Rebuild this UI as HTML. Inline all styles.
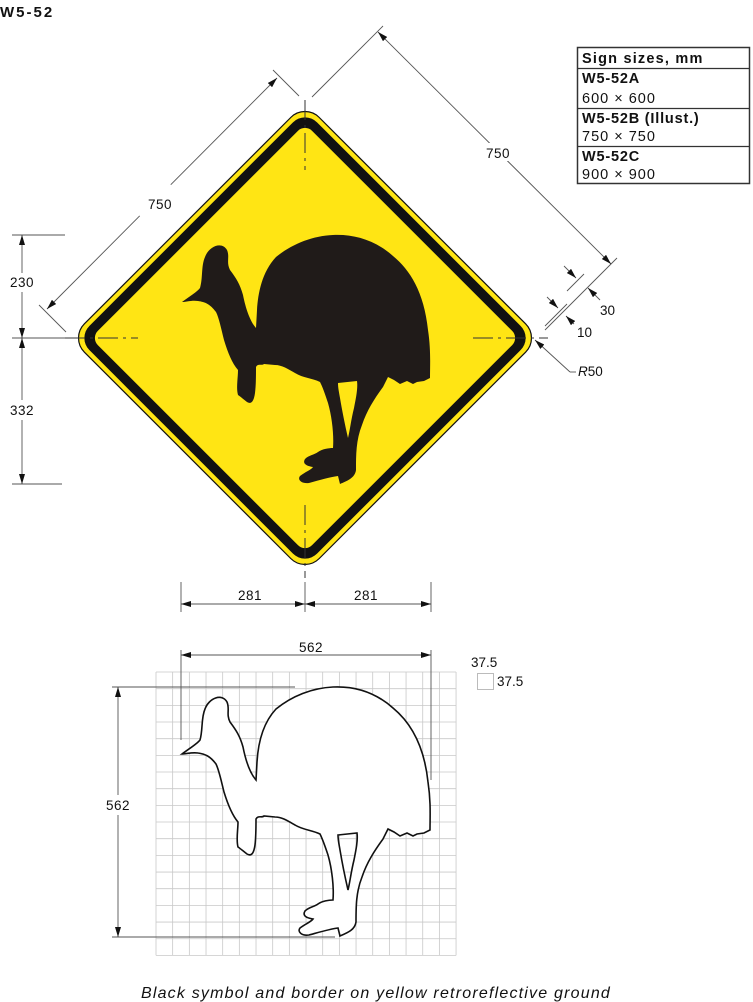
<!DOCTYPE html>
<html><head><meta charset="utf-8"><style>
html,body{margin:0;padding:0;background:#fff}
svg{display:block}
text{font-family:"Liberation Sans",sans-serif;fill:#111}
</style></head><body>
<svg width="753" height="1002" viewBox="0 0 753 1002" xmlns="http://www.w3.org/2000/svg">
<defs>
<marker id="ar" viewBox="0 0 10 6" refX="10" refY="3" markerWidth="10" markerHeight="6" markerUnits="userSpaceOnUse" orient="auto-start-reverse"><path d="M0,0 L10,3 L0,6 z" fill="#111"/></marker>
<path id="bird" fill-rule="evenodd" d="M182,302 C190,296 197,292 200,288 C203,278 201,266 205,257 C209,246 222,241 227,250 C230,257 226,262 230,270 C236,278 240,284 243,295 C245,305 249,320 256,328 L257,310 C258,293 262,272 276,257 C292,244 312,236 333,235 C354,234 375,240 393,256 C410,270 424,292 428,330 C431,350 430,365 430,378 L424,381 L417,382 L413,384 L407,381 L400,384 L394,380 L388,377 L383,387 C375,398 367,410 362,425 C356,440 356,455 356,470 C355,478 347,481 340,484 L338,476 C330,477 320,480 309,483 C302,484 297,480 300,476 C305,472 311,470 313,467 C307,466 302,464 305,459 C309,455 314,455 318,452 C322,449 329,448 333,448 C334,435 332,417 328,403 C325,394 323,388 320,382 C312,378 303,378 295,373 C288,369 282,365 275,365 L264,364 C262,366 258,363 256,367 C256,375 256,385 255,393 C254,400 252,405 247,402 C243,399 241,397 238,395 C236,388 238,378 238,370 C232,363 228,353 224,340 C221,328 219,318 216,312 C210,304 205,302 198,301 C192,300 186,302 182,302 Z M338,383 L357,381 C358,388 356,398 354,408 C351,420 350,430 348,438 C345,425 342,410 340,398 C339,392 338,388 338,383 Z"/>
</defs>

<text x="0" y="17" font-size="15" font-weight="bold" letter-spacing="2">W5-52</text>

<g>
<rect x="577.5" y="47.5" width="172" height="136" fill="#fff" stroke="#333" stroke-width="1.5"/>
<line x1="577" y1="68.5" x2="750" y2="68.5" stroke="#333" stroke-width="1.3"/>
<line x1="577" y1="108.5" x2="750" y2="108.5" stroke="#333" stroke-width="1.3"/>
<line x1="577" y1="146.5" x2="750" y2="146.5" stroke="#333" stroke-width="1.3"/>
<text x="582" y="63" font-size="14.5" font-weight="bold" letter-spacing="1.2">Sign sizes, mm</text>
<text x="582" y="83" font-size="14.5" font-weight="bold" letter-spacing="0.8">W5-52A</text>
<text x="582" y="103" font-size="14.5" letter-spacing="1">600 × 600</text>
<text x="582" y="123" font-size="14.5" font-weight="bold" letter-spacing="0.8">W5-52B (Illust.)</text>
<text x="582" y="141" font-size="14.5" letter-spacing="1">750 × 750</text>
<text x="582" y="161" font-size="14.5" font-weight="bold" letter-spacing="0.8">W5-52C</text>
<text x="582" y="179" font-size="14.5" letter-spacing="1">900 × 900</text>
</g>

<g>
<g transform="rotate(45 305 338)">
<rect x="139" y="172" width="332" height="332" rx="20" fill="#ffe514" stroke="#111" stroke-width="1.2"/>
<rect x="144" y="177" width="322" height="322" rx="17" fill="#111"/>
<rect x="153.5" y="186.5" width="303" height="303" rx="10" fill="#ffe514"/>
</g>
<use href="#bird" fill="#201b19"/>
<g stroke="#333" stroke-width="1" stroke-dasharray="20,5,3,5" fill="none">
<line x1="305" y1="100" x2="305" y2="170"/>
<line x1="305" y1="505" x2="305" y2="578"/>
<line x1="65" y1="338" x2="138" y2="338"/>
<line x1="473" y1="338" x2="548" y2="338"/>
</g>
</g>

<g stroke="#555" stroke-width="0.9" fill="none">
<line x1="273" y1="70" x2="299" y2="96"/>
<line x1="39" y1="305" x2="66" y2="332"/>
<line x1="47" y1="309" x2="277" y2="78" marker-start="url(#ar)" marker-end="url(#ar)"/>
<line x1="312" y1="97" x2="383" y2="26"/>
<line x1="545" y1="330" x2="617" y2="258"/>
<line x1="378" y1="32" x2="611" y2="264" marker-start="url(#ar)" marker-end="url(#ar)"/>
<line x1="567" y1="291" x2="584" y2="274"/>
<line x1="545" y1="326" x2="567" y2="304"/>
<line x1="564" y1="266" x2="576" y2="278" marker-end="url(#ar)"/>
<line x1="600" y1="300" x2="588" y2="288" marker-end="url(#ar)"/>
<line x1="547" y1="297" x2="558" y2="308" marker-end="url(#ar)"/>
<line x1="574" y1="324" x2="566" y2="316" marker-end="url(#ar)"/>
<line x1="570" y1="372" x2="535" y2="340" marker-end="url(#ar)"/>
<line x1="570" y1="372" x2="576" y2="372"/>
</g>
<g transform="rotate(-45 160 205)"><rect x="138" y="196" width="44" height="16" fill="#fff"/><text x="160" y="209" font-size="13.5" text-anchor="middle" letter-spacing="0.5" transform="rotate(45 160 205)">750</text></g>
<rect x="480" y="143" width="36" height="18" fill="#fff"/>
<text x="498" y="158" font-size="13.5" text-anchor="middle" letter-spacing="0.5">750</text>
<text x="600" y="315" font-size="13.5">30</text>
<text x="577" y="337" font-size="13.5">10</text>
<text x="578" y="376" font-size="13.5"><tspan font-style="italic">R</tspan>50</text>

<g stroke="#555" stroke-width="0.9" fill="none">
<line x1="12" y1="235" x2="65" y2="235"/>
<line x1="12" y1="338" x2="65" y2="338"/>
<line x1="12" y1="484" x2="62" y2="484"/>
<line x1="22" y1="235" x2="22" y2="273" marker-start="url(#ar)"/>
<line x1="22" y1="292" x2="22" y2="338" marker-end="url(#ar)"/>
<line x1="22" y1="338" x2="22" y2="400" marker-start="url(#ar)"/>
<line x1="22" y1="420" x2="22" y2="484" marker-end="url(#ar)"/>
</g>
<text x="22" y="287" font-size="13.5" text-anchor="middle" letter-spacing="0.5">230</text>
<text x="22" y="415" font-size="13.5" text-anchor="middle" letter-spacing="0.5">332</text>

<g stroke="#555" stroke-width="0.9" fill="none">
<line x1="181" y1="582" x2="181" y2="612"/>
<line x1="305" y1="582" x2="305" y2="612"/>
<line x1="431" y1="582" x2="431" y2="612"/>
<line x1="181" y1="604" x2="305" y2="604" marker-start="url(#ar)" marker-end="url(#ar)"/>
<line x1="305" y1="604" x2="431" y2="604" marker-start="url(#ar)" marker-end="url(#ar)"/>
</g>
<text x="250" y="600" font-size="13.5" text-anchor="middle" letter-spacing="0.5">281</text>
<text x="366" y="600" font-size="13.5" text-anchor="middle" letter-spacing="0.5">281</text>

<g id="grid" stroke="#c8c8c8" stroke-width="0.8"></g>
<g stroke="#555" stroke-width="0.9" fill="none">
<line x1="181" y1="650" x2="181" y2="740"/>
<line x1="431" y1="650" x2="431" y2="780"/>
<line x1="181" y1="655" x2="431" y2="655" marker-start="url(#ar)" marker-end="url(#ar)"/>
<line x1="112" y1="687" x2="295" y2="687"/>
<line x1="112" y1="937" x2="335" y2="937"/>
<line x1="118" y1="687" x2="118" y2="795" marker-start="url(#ar)"/>
<line x1="118" y1="815" x2="118" y2="937" marker-end="url(#ar)"/>
</g>
<text x="311" y="652" font-size="13.5" text-anchor="middle" letter-spacing="0.5">562</text>
<text x="118" y="810" font-size="13.5" text-anchor="middle" letter-spacing="0.5">562</text>
<rect x="477.5" y="673.5" width="16" height="16" fill="none" stroke="#bbb"/>
<text x="471" y="667" font-size="13.5">37.5</text>
<text x="497" y="686" font-size="13.5">37.5</text>
<use href="#bird" transform="translate(0 452)" fill="#fff" stroke="#111" stroke-width="1.6"/>

<text x="376" y="998" font-size="16" font-style="italic" text-anchor="middle" letter-spacing="1.2">Black symbol and border on yellow retroreflective ground</text>
</svg>
<script>
var g=document.getElementById('grid');
var x0=156,y0=672,c=16.67,nc=18,nr=17,ns='http://www.w3.org/2000/svg';
for(var i=0;i<=nc;i++){var l=document.createElementNS(ns,'line');


l.setAttribute('x1',x0+i*c);l.setAttribute('x2',x0+i*c);l.setAttribute('y1',y0);l.setAttribute('y2',y0+nr*c);g.appendChild(l);}
for(var j=0;j<=nr;j++){var m=document.createElementNS(ns,'line');


m.setAttribute('x1',x0);m.setAttribute('x2',x0+nc*c);m.setAttribute('y1',y0+j*c);m.setAttribute('y2',y0+j*c);g.appendChild(m);}
</script>
</body></html>
